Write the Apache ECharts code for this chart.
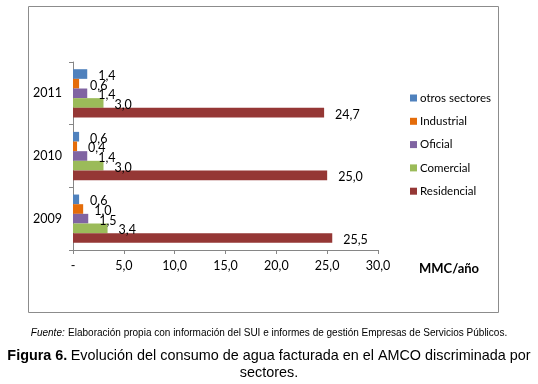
<!DOCTYPE html>
<html><head><meta charset="utf-8">
<script src="https://cdn.jsdelivr.net/npm/echarts@6/dist/echarts.min.js"></script>
<style>html,body{margin:0;padding:0;background:#fff}#c{width:538px;height:384px}</style>
</head><body><div id="c"></div>
<script>
const years = ['2009', '2010', '2011'];
const residencial = [25.5, 25.0, 24.7];
const comercial = [3.4, 3.0, 3.0];
const oficial = [1.5, 1.4, 1.4];
const industrial = [1.0, 0.4, 0.6];
const otros = [0.6, 0.6, 1.4];
const xTicks = ['-', '5,0', '10,0', '15,0', '20,0', '25,0', '30,0'];
const legendOrder = ['otros sectores', 'Industrial', 'Oficial', 'Comercial', 'Residencial'];

const FONT = 'Lato';
const fmt = v => v.toFixed(1).replace('.', ',');
function ser(name, data, color) {
  return {
    name, type: 'bar', data, barGap: 0, barCategoryGap: '23%',
    itemStyle: { color },
    label: {
      show: true, position: 'right', distance: 11, offset: [0, 2],
      color: '#000', fontFamily: FONT, fontSize: 12.5,
      formatter: p => fmt(p.value)
    }
  };
}
const chart = echarts.init(document.getElementById('c'));
chart.setOption({
  animation: false,
  grid: { left: 73, top: 62, width: 305, height: 188 },
  xAxis: {
    type: 'value', min: 0, max: 30, interval: 5,
    axisLine: { show: true, lineStyle: { color: '#868686' } },
    axisTick: { show: true, length: 4, lineStyle: { color: '#868686' } },
    splitLine: { show: false },
    axisLabel: { color: '#000', fontFamily: FONT, fontSize: 12.5, margin: 9,
      formatter: v => xTicks[Math.round(v / 5)] }
  },
  yAxis: {
    type: 'category', data: years,
    axisLine: { show: true, lineStyle: { color: '#868686' } },
    axisTick: { show: true, length: 4, lineStyle: { color: '#868686' } },
    axisLabel: { color: '#000', fontFamily: FONT, fontSize: 12.5, margin: 11 }
  },
  legend: {
    data: legendOrder, orient: 'vertical', left: 405, top: 87,
    itemWidth: 7, itemHeight: 7, itemGap: 11.3, icon: 'rect',
    textStyle: { color: '#000', fontFamily: FONT, fontSize: 11.5, padding: [0, 0, 0, -2] }
  },
  series: [
    ser('otros sectores', otros, '#4F81BD'),
    ser('Industrial', industrial, '#E46C0A'),
    ser('Oficial', oficial, '#8064A2'),
    ser('Comercial', comercial, '#9BBB59'),
    ser('Residencial', residencial, '#953735')
  ],
  graphic: [
    { type: 'rect', left: 26, top: 4, shape: { width: 470, height: 306 },
      style: { fill: 'none', stroke: '#8c8c8c', lineWidth: 1 }, silent: true, z: -1 },
    { type: 'text', left: 419, top: 262,
      style: { text: 'MMC/año', fontFamily: FONT, fontWeight: 'bold', fontSize: 13, fill: '#000' } },
    { type: 'text', left: 'center', top: 327,
      style: { text: '{i|Fuente:} {n|Elaboración propia con información del SUI e informes de gestión Empresas de Servicios Públicos.}',
        rich: {
          i: { fontFamily: 'Liberation Sans', fontStyle: 'italic', fontSize: 10, fill: '#000' },
          n: { fontFamily: 'Liberation Sans', fontSize: 10, fill: '#000' }
        } } },
    { type: 'text', left: 'center', top: 349,
      style: { text: '{b|Figura 6.} {n|Evolución del consumo de agua facturada en el AMCO discriminada por}',
        rich: {
          b: { fontFamily: 'Liberation Sans', fontWeight: 'bold', fontSize: 14.4, fill: '#000' },
          n: { fontFamily: 'Liberation Sans', fontSize: 14.4, fill: '#000' }
        } } },
    { type: 'text', left: 'center', top: 366,
      style: { text: 'sectores.', fontFamily: 'Liberation Sans', fontSize: 14.4, fill: '#000' } }
  ]
});
</script></body></html>
